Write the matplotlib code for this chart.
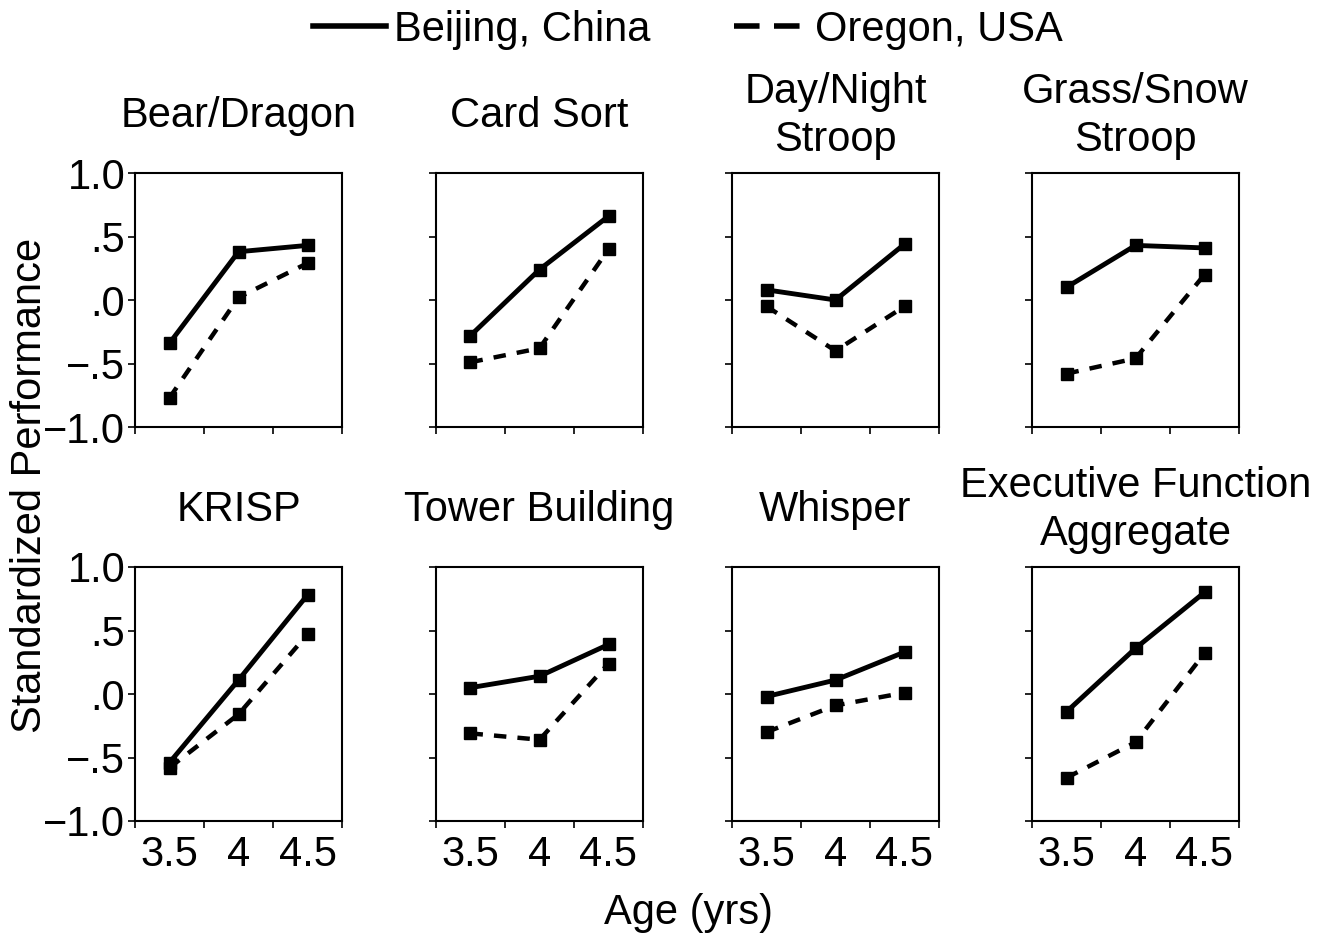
import numpy as np
import matplotlib
matplotlib.use("Agg")
import matplotlib.pyplot as plt
from matplotlib.lines import Line2D

plt.rcParams['font.family'] = ['Liberation Sans', 'DejaVu Sans']

# data
ages = ["3.5", "4", "4.5"]
tasks = ["Bear/Dragon", "Card Sort", "Day/Night\nStroop", "Grass/Snow\nStroop",
         "KRISP", "Tower Building", "Whisper", "Executive Function\nAggregate"]
beijing = [
    [-0.34, 0.38, 0.43],
    [-0.28, 0.24, 0.66],
    [0.08, 0.00, 0.44],
    [0.10, 0.43, 0.41],
    [-0.54, 0.11, 0.78],
    [0.05, 0.14, 0.39],
    [-0.02, 0.11, 0.33],
    [-0.14, 0.36, 0.80],
]
oregon = [
    [-0.77, 0.02, 0.29],
    [-0.49, -0.38, 0.40],
    [-0.05, -0.40, -0.05],
    [-0.58, -0.46, 0.20],
    [-0.58, -0.16, 0.47],
    [-0.31, -0.36, 0.24],
    [-0.30, -0.09, 0.01],
    [-0.66, -0.38, 0.32],
]
yticks = [-1.0, -0.5, 0.0, 0.5, 1.0]
ytick_labels = ["\u22121.0", "\u2212.5", ".0", ".5", "1.0"]

W, H = 1328, 940
fig = plt.figure(figsize=(W / 100, H / 100), dpi=100)

lefts = [135, 436, 732, 1032]
row_bottoms = [427, 821]
aw, ah = 207, 254
fs = 30

x = np.arange(len(ages))
for i, task in enumerate(tasks):
    r, c = divmod(i, 4)
    ax = fig.add_axes([lefts[c] / W, 1 - row_bottoms[r] / H, aw / W, ah / H])
    ax.plot(x, beijing[i], color='black', lw=3.5, marker='s', ms=8,
            solid_joinstyle='miter')
    ax.plot(x, oregon[i], color='black', lw=3.2, marker='s', ms=8,
            linestyle=(0, (2.8, 2.5)))
    ax.set_xlim(-0.5, 2.5)
    ax.set_ylim(-1.0, 1.0)
    # ticks sit between the age groups, labels at the group centres
    ax.set_xticks([-0.5, 0.5, 1.5, 2.5])
    ax.set_xticklabels([])
    ax.set_xticks(x, minor=True)
    ax.tick_params(axis='x', which='minor', length=0, labelsize=fs, pad=10)
    if r == 1:
        ax.set_xticklabels(ages, minor=True)
    ax.set_yticks(yticks)
    if c == 0:
        ax.set_yticklabels(ytick_labels)
    else:
        ax.set_yticklabels([])
    ax.tick_params(axis='both', which='major', direction='out', length=5,
                   width=1.2, labelsize=fs, pad=4)
    ax.tick_params(axis='y', pad=2)
    for s in ax.spines.values():
        s.set_linewidth(1.5)
    ax.text(0.5, 1 + 57 / ah, task, transform=ax.transAxes, ha='center',
            va='center', fontsize=fs, linespacing=1.25)

fig.text(30 / W, 1 - 485 / H, "Standardized Performance", rotation=90,
         ha='center', va='center', fontsize=fs)
fig.text(688 / W, 1 - 913 / H, "Age (yrs)", ha='center', va='center', fontsize=fs)

handles = [Line2D([], [], color='black', lw=4),
           Line2D([], [], color='black', lw=4, linestyle=(0, (4.6, 2.6)))]
fig.legend(handles, ["Beijing, China", "Oregon, USA"], loc='center',
           bbox_to_anchor=(688 / W, 1 - 30 / H), ncol=2, frameon=False,
           fontsize=fs, handlelength=1.75, handletextpad=0.2,
           columnspacing=2.0, borderpad=0)

fig.savefig("out.png", dpi=100)
